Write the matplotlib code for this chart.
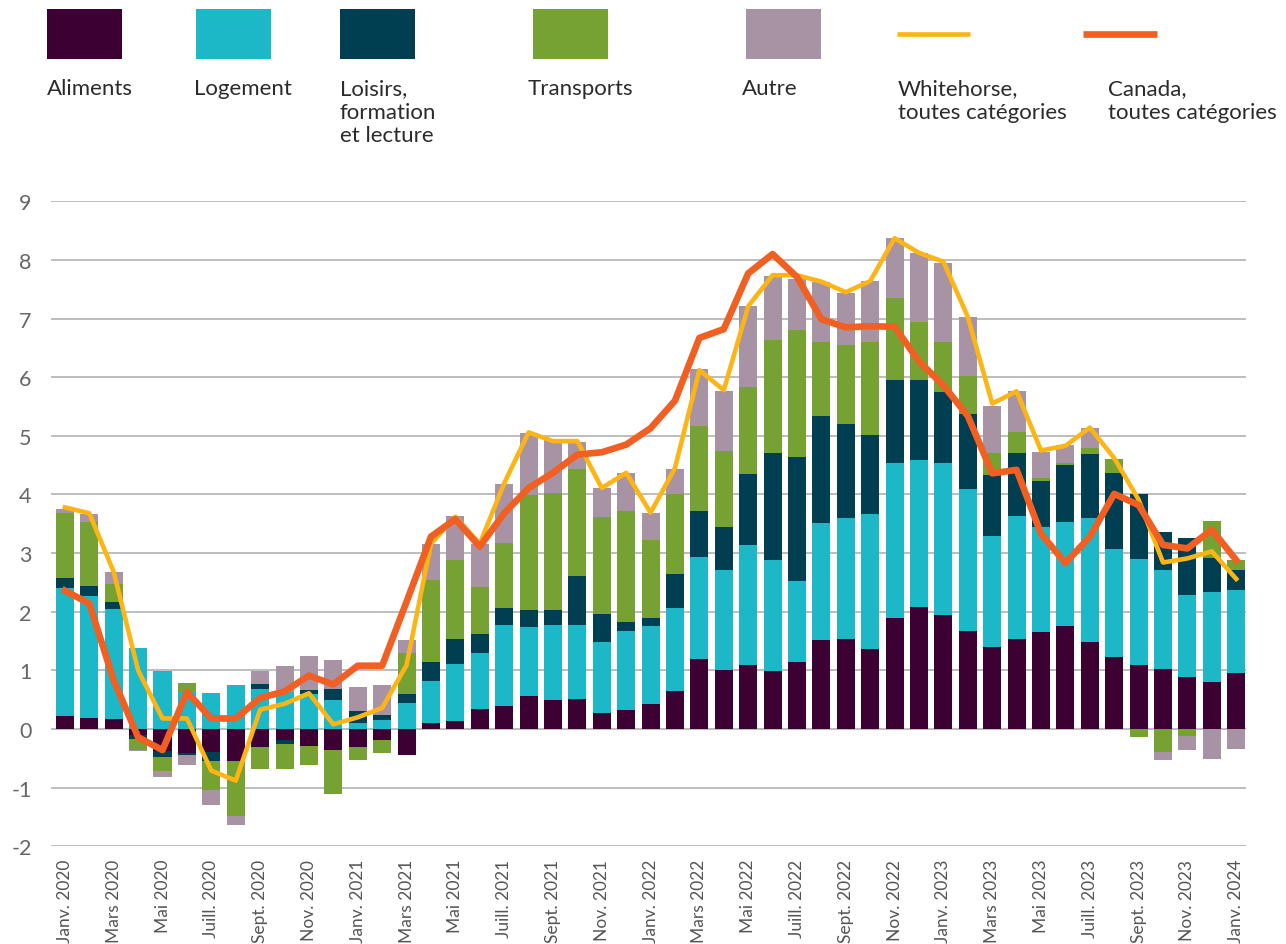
import numpy as np
import matplotlib
matplotlib.use("Agg")
import matplotlib.pyplot as plt
from matplotlib.patches import Rectangle
from matplotlib.lines import Line2D

plt.rcParams['font.family'] = ['Lato', 'DejaVu Sans']

# ---------------- data ----------------
mois = []
noms = ["Janv.", "Févr.", "Mars", "Avr.", "Mai", "Juin", "Juill.", "Août",
        "Sept.", "Oct.", "Nov.", "Déc."]
for annee in range(2020, 2025):
    for m in noms:
        mois.append(f"{m} {annee}")
mois = mois[:49]

categories = ["Aliments", "Logement", "Loisirs,\nformation\net lecture", "Transports", "Autre"]
lignes = ["Whitehorse,\ntoutes catégories", "Canada,\ntoutes catégories"]

aliments = [0.22, 0.18, 0.165, -0.11, -0.38, -0.41, -0.40, -0.54, -0.31, -0.19,
            -0.29, -0.36, -0.31, -0.19, -0.45, 0.10, 0.14, 0.34, 0.39, 0.56,
            0.49, 0.51, 0.27, 0.32, 0.43, 0.65, 1.20, 1.00, 1.09, 0.99,
            1.14, 1.52, 1.54, 1.36, 1.90, 2.08, 1.95, 1.68, 1.40, 1.53,
            1.65, 1.76, 1.48, 1.23, 1.09, 1.02, 0.89, 0.80, 0.96]
logement = [2.18, 2.09, 1.88, 1.38, 0.99, 0.63, 0.61, 0.75, 0.69, 0.63,
            0.59, 0.49, 0.11, 0.16, 0.44, 0.72, 0.97, 0.96, 1.38, 1.18,
            1.28, 1.26, 1.21, 1.35, 1.33, 1.42, 1.74, 1.71, 2.05, 1.90,
            1.38, 2.00, 2.06, 2.31, 2.63, 2.50, 2.58, 2.42, 1.90, 2.10,
            1.80, 1.77, 2.12, 1.84, 1.81, 1.69, 1.40, 1.54, 1.41]
loisirs = [0.17, 0.17, 0.12, -0.06, -0.09, -0.04, -0.14, 0.0, 0.085, -0.07,
           0.07, 0.20, 0.19, 0.085, 0.15, 0.32, 0.43, 0.32, 0.29, 0.29,
           0.26, 0.84, 0.48, 0.15, 0.14, 0.58, 0.77, 0.73, 1.21, 1.81,
           2.12, 1.81, 1.61, 1.35, 1.43, 1.38, 1.22, 1.27, 1.04, 1.08,
           0.78, 0.98, 1.09, 1.30, 1.11, 0.65, 0.97, 0.58, 0.34]
transports = [1.12, 1.09, 0.30, -0.18, -0.24, 0.15, -0.50, -0.95, -0.37, -0.42,
              -0.32, -0.75, -0.22, -0.22, 0.70, 1.40, 1.35, 0.80, 1.11, 1.96,
              2.00, 1.83, 1.66, 1.89, 1.33, 1.35, 1.45, 1.30, 1.49, 1.93,
              2.16, 1.27, 1.34, 1.58, 1.39, 0.98, 0.85, 0.65, 0.36, 0.36,
              0.05, 0.02, 0.10, 0.24, -0.14, -0.40, -0.12, 0.63, 0.17]
autre = [0.07, 0.14, 0.21, -0.02, -0.11, -0.17, -0.26, -0.15, 0.21, 0.45,
         0.58, 0.49, 0.42, 0.51, 0.22, 0.62, 0.75, 0.74, 1.01, 1.06,
         0.91, 0.46, 0.49, 0.65, 0.46, 0.44, 0.98, 1.03, 1.37, 1.10,
         0.88, 1.03, 0.88, 1.04, 1.02, 1.17, 1.35, 1.00, 0.81, 0.69,
         0.44, 0.31, 0.34, 0.0, 0.0, -0.13, -0.24, -0.51, -0.34]
whitehorse = [3.78, 3.68, 2.68, 1.00, 0.18, 0.18, -0.71, -0.88, 0.33, 0.43,
              0.61, 0.08, 0.20, 0.36, 1.09, 3.16, 3.62, 3.16, 4.19, 5.06,
              4.91, 4.91, 4.11, 4.37, 3.69, 4.45, 6.12, 5.78, 7.21, 7.74,
              7.74, 7.63, 7.45, 7.64, 8.37, 8.12, 7.97, 7.03, 5.55, 5.76,
              4.75, 4.83, 5.14, 4.62, 3.91, 2.84, 2.91, 3.03, 2.56]
canada = [2.36, 2.14, 0.83, -0.14, -0.36, 0.63, 0.18, 0.18, 0.53, 0.64,
          0.91, 0.76, 1.08, 1.08, 2.17, 3.28, 3.58, 3.11, 3.68, 4.11,
          4.37, 4.68, 4.72, 4.85, 5.13, 5.60, 6.67, 6.82, 7.77, 8.10,
          7.71, 6.99, 6.85, 6.87, 6.86, 6.27, 5.86, 5.34, 4.36, 4.42,
          3.33, 2.83, 3.28, 4.01, 3.82, 3.14, 3.08, 3.40, 2.88]

couleurs = ["#3d0033", "#1cb8c8", "#003f51", "#76a233", "#a893a5"]
c_wh = "#fdb516"
c_ca = "#f15f22"

# ---------------- figure ----------------
W, H = 1286, 945
fig = plt.figure(figsize=(W / 100, H / 100), dpi=100)

def fx(px):
    return px / W

def fy(py):
    return 1 - py / H

ax = fig.add_axes([fx(51), fy(847.3), fx(1246) - fx(51), fy(202.3) - fy(847.3)])

x = np.arange(len(mois))
series = [aliments, logement, loisirs, transports, autre]
pos = np.zeros(len(x))
neg = np.zeros(len(x))
for vals, col in zip(series, couleurs):
    v = np.array(vals, dtype=float)
    bottom = np.where(v >= 0, pos, neg)
    ax.bar(x, v, bottom=bottom, width=0.74, color=col, linewidth=0, zorder=3)
    pos += np.clip(v, 0, None)
    neg += np.clip(v, None, 0)

ax.plot(x, whitehorse, color=c_wh, lw=3.3, zorder=5)
ax.plot(x, canada, color=c_ca, lw=4.8, zorder=6)

ax.set_ylim(-2, 9)
ax.set_xlim(-0.57, 48.4)
ax.set_yticks(range(-2, 10))
ax.set_yticklabels([str(v) for v in range(-2, 10)])
ax.yaxis.grid(True, color="#b8b8b8", lw=1.3, zorder=0)
ax.set_axisbelow(True)
for s in ax.spines.values():
    s.set_visible(False)
ax.tick_params(axis='y', length=0, pad=14, labelsize=15.5, labelcolor="#666666")
ax.set_xticks(x[::2])
ax.set_xticklabels(mois[::2], rotation=90, va='top', ha='center')
ax.tick_params(axis='x', length=0, pad=9, labelsize=12.5, labelcolor="#555555")

# ---------------- legend ----------------
patch_x = [47, 196, 340, 533, 746]
text_x = [47, 194, 340, 528, 742]
for px, tx, col, lab in zip(patch_x, text_x, couleurs, categories):
    fig.add_artist(Rectangle((fx(px), fy(60)), fx(75), 50 / H, transform=fig.transFigure,
                             facecolor=col, edgecolor='none'))
    fig.text(fx(tx), fy(79), lab, ha='left', va='top', fontsize=16, color="#2b2b2b",
             linespacing=1.22)

for (x0, x1), col, lw, tx, lab in zip([(897, 970), (1083, 1157)], [c_wh, c_ca], [3.3, 4.8],
                                       [898, 1108], lignes):
    fig.add_artist(Line2D([fx(x0), fx(x1)], [fy(35), fy(35)], transform=fig.transFigure,
                          color=col, lw=lw, solid_capstyle='butt'))
    fig.text(fx(tx), fy(79), lab, ha='left', va='top', fontsize=16, color="#2b2b2b",
             linespacing=1.22)

fig.savefig("out.png", dpi=100)
